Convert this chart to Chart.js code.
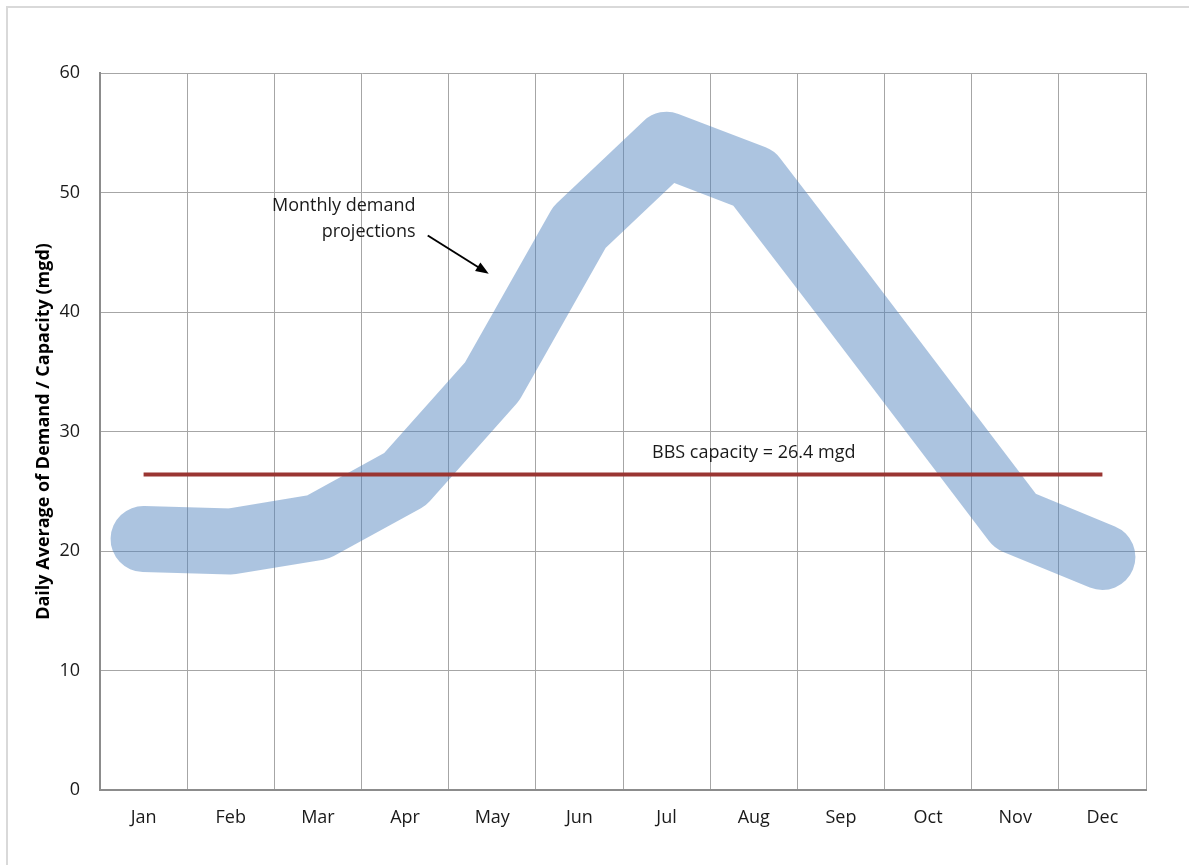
<!DOCTYPE html>
<html>
<head>
<meta charset="utf-8">
<title>Monthly demand vs BBS capacity</title>
<script src="https://cdn.jsdelivr.net/npm/chart.js@4/dist/chart.umd.min.js"></script>
<style>
  body { margin: 0; background: #fff; }
  canvas { display: block; }
</style>
</head>
<body>
<canvas id="demand-chart" width="1189" height="865"></canvas>
<script>
var months = ['Jan', 'Feb', 'Mar', 'Apr', 'May', 'Jun', 'Jul', 'Aug', 'Sep', 'Oct', 'Nov', 'Dec'];
var demand = [21.0, 20.8, 22.0, 26.0, 34.2, 47.1, 54.0, 51.2, 41.7, 32.1, 22.5, 19.5];
var capacity = [26.4, 26.4, 26.4, 26.4, 26.4, 26.4, 26.4, 26.4, 26.4, 26.4, 26.4, 26.4];
var yTicks = [0, 10, 20, 30, 40, 50, 60];

var capacityLabel = 'BBS capacity = 26.4 mgd';
var demandLabel = ['Monthly demand', 'projections'];
var yTitle = 'Daily Average of Demand / Capacity (mgd)';

var fontFamily = '"Open Sans", "Noto Sans", sans-serif';

// white page + light frame like the exported chart
var framePlugin = {
  id: 'frame',
  beforeDraw: function(chart) {
    var ctx = chart.ctx;
    ctx.save();
    ctx.fillStyle = '#ffffff';
    ctx.fillRect(0, 0, chart.width, chart.height);
    ctx.strokeStyle = '#d9d9d9';
    ctx.lineWidth = 2;
    ctx.strokeRect(7, 7, chart.width + 20, chart.height + 20);
    ctx.restore();
  }
};

// text callouts and the arrow, placed in data coordinates
var notesPlugin = {
  id: 'notes',
  afterDatasetsDraw: function(chart) {
    var ctx = chart.ctx;
    var x = chart.scales.x;
    var y = chart.scales.y;

    ctx.save();
    ctx.fillStyle = '#1a1a1a';
    ctx.font = '18px ' + fontFamily;
    ctx.textBaseline = 'middle';

    ctx.textAlign = 'center';
    ctx.fillText(capacityLabel, x.getPixelForValue(7), y.getPixelForValue(28.2));

    ctx.textAlign = 'right';
    ctx.fillText(demandLabel[0], x.getPixelForValue(3.12), y.getPixelForValue(48.9));
    ctx.fillText(demandLabel[1], x.getPixelForValue(3.12), y.getPixelForValue(46.7));

    var x0 = x.getPixelForValue(3.26), y0 = y.getPixelForValue(46.4);
    var x1 = x.getPixelForValue(3.96), y1 = y.getPixelForValue(43.2);
    var ang = Math.atan2(y1 - y0, x1 - x0);
    var head = 13;

    ctx.strokeStyle = '#000';
    ctx.lineWidth = 2;
    ctx.beginPath();
    ctx.moveTo(x0, y0);
    ctx.lineTo(x1 - Math.cos(ang) * head * 0.8, y1 - Math.sin(ang) * head * 0.8);
    ctx.stroke();

    ctx.fillStyle = '#000';
    ctx.beginPath();
    ctx.moveTo(x1, y1);
    ctx.lineTo(x1 - head * Math.cos(ang) + 5 * Math.sin(ang), y1 - head * Math.sin(ang) - 5 * Math.cos(ang));
    ctx.lineTo(x1 - head * Math.cos(ang) - 5 * Math.sin(ang), y1 - head * Math.sin(ang) + 5 * Math.cos(ang));
    ctx.closePath();
    ctx.fill();
    ctx.restore();
  }
};

function init() {
  createDemandChart();
}

function createDemandChart() {
  var element = document.getElementById('demand-chart').getContext('2d');

  var chart = new Chart(element, {
    type: 'line',
    data: {
      labels: months,
      datasets: [{
        label: 'BBS capacity',
        data: capacity,
        borderColor: '#9a3532',
        borderWidth: 4,
        pointRadius: 0,
        tension: 0,
        order: 0
      }, {
        label: 'Monthly demand projections',
        data: demand,
        borderColor: 'rgba(79, 129, 189, 0.47)',
        borderWidth: 66,
        borderJoinStyle: 'round',
        borderCapStyle: 'round',
        pointRadius: 0,
        tension: 0,
        clip: false,
        order: 1
      }]
    },
    options: {
      responsive: false,
      animation: false,
      layout: {
        padding: { left: 20, right: 43, top: 73, bottom: 25 }
      },
      plugins: {
        legend: { display: false },
        tooltip: { enabled: false }
      },
      scales: {
        x: {
          offset: true,
          grid: {
            offset: true,
            color: '#a6a6a6',
            lineWidth: 1,
            drawTicks: false
          },
          border: { color: '#8c8c8c', width: 2 },
          ticks: {
            color: '#1a1a1a',
            padding: 17,
            maxRotation: 0,
            font: { family: fontFamily, size: 18 }
          },
          afterFit: function(scale) { scale.height = 50; }
        },
        y: {
          min: 0,
          max: 60,
          afterBuildTicks: function(scale) {
            scale.ticks = yTicks.map(function(v) { return { value: v }; });
          },
          grid: {
            color: '#a6a6a6',
            lineWidth: 1,
            drawTicks: false
          },
          border: { color: '#8c8c8c', width: 2 },
          ticks: {
            color: '#1a1a1a',
            padding: 20,
            font: { family: fontFamily, size: 18 }
          },
          title: {
            display: true,
            text: yTitle,
            color: '#000',
            padding: { top: 13, bottom: 0 },
            font: { family: fontFamily, size: 18, weight: 'bold' }
          },
          afterFit: function(scale) { scale.width = 80; }
        }
      }
    },
    plugins: [framePlugin, notesPlugin]
  });
}

init();
</script>
</body>
</html>
